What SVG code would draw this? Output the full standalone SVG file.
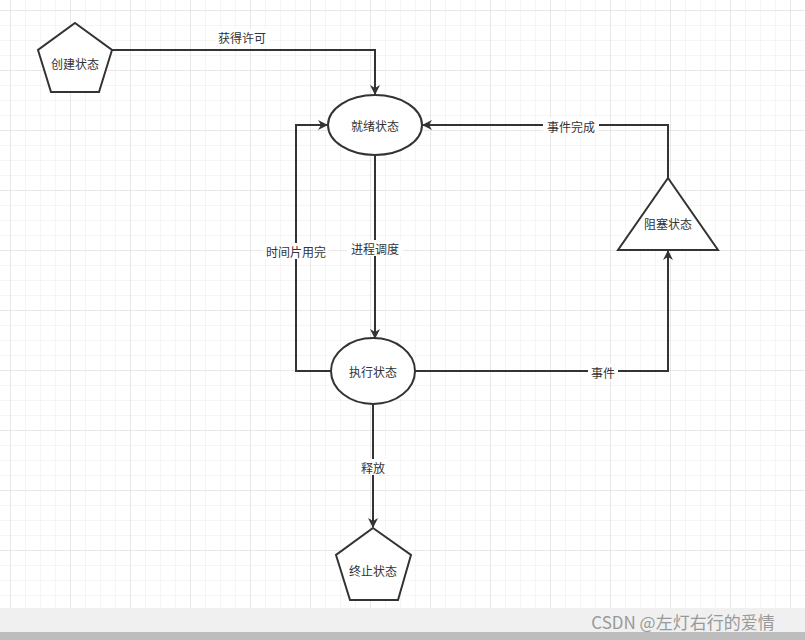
<svg xmlns="http://www.w3.org/2000/svg" width="805" height="640" viewBox="0 0 805 640">
<defs>
<pattern id="minor" width="15" height="15" patternUnits="userSpaceOnUse" x="10" y="10"><path d="M0 0H15M0 0V15" fill="none" stroke="#ececec" stroke-width="1"/></pattern>
<pattern id="major" width="60" height="60" patternUnits="userSpaceOnUse" x="10" y="10"><path d="M0 0H60M0 0V60" fill="none" stroke="#dcdcdc" stroke-width="1"/></pattern>
<marker id="arr" viewBox="0 0 10 10" refX="9" refY="5" markerWidth="10" markerHeight="10" markerUnits="userSpaceOnUse" orient="auto"><path d="M0 0L10 5L0 10L3 5Z" fill="#333"/></marker>
</defs>
<style>
.n{fill:#fff;stroke:#333;stroke-width:2}
.c{fill:none;stroke:#333;stroke-width:2;marker-end:url(#arr)}
text{font-family:"Noto Sans CJK SC",sans-serif;font-size:12px;fill:#333;text-anchor:middle;dominant-baseline:central}
.lb{fill:#fff}
</style>
<rect width="805" height="640" fill="#fff"/>
<rect width="805" height="640" fill="url(#minor)"/>
<rect width="805" height="640" fill="url(#major)"/>
<rect y="608" width="805" height="26" fill="#f0f0f0"/>
<rect y="632" width="805" height="8" fill="#bdbdbd"/>
<g id="create"><polygon class="n" points="75,23 112,50 99,92 51,92 38,50"/><text x="75" y="63">创建状态</text></g>
<g id="ready"><ellipse class="n" cx="375" cy="125" rx="47" ry="30"/><text x="375" y="125">就绪状态</text></g>
<g id="run"><ellipse class="n" cx="373" cy="371" rx="42" ry="33"/><text x="373" y="371">执行状态</text></g>
<g id="block"><polygon class="n" points="668,178 718,250 618,250"/><text x="668" y="223">阻塞状态</text></g>
<g id="end"><polygon class="n" points="373,528 411,555 398,600 350,600 336,555"/><text x="373" y="570">终止状态</text></g>
<g id="connectors">
<path class="c" d="M112 50H375V94"/>
<path class="c" d="M375 155V338"/>
<path class="c" d="M331 371H296V125H327"/>
<path class="c" d="M415 371H668V251"/>
<path class="c" d="M668 178V125H423"/>
<path class="c" d="M373 404V527"/>
<rect class="lb" x="215" y="29" width="54" height="16"/><text x="242" y="37">获得许可</text>
<rect class="lb" x="347" y="240" width="56" height="16"/><text x="375" y="248">进程调度</text>
<rect class="lb" x="263" y="243" width="66" height="16"/><text x="296" y="251">时间片用完</text>
<rect class="lb" x="588" y="364" width="30" height="16"/><text x="603" y="372">事件</text>
<rect class="lb" x="543" y="118" width="56" height="16"/><text x="571" y="126">事件完成</text>
<rect class="lb" x="358" y="459" width="30" height="16"/><text x="373" y="467">释放</text>
</g>
<text x="683" y="621" style="font-size:17px;fill:#999">CSDN @左灯右行的爱情</text>
</svg>
